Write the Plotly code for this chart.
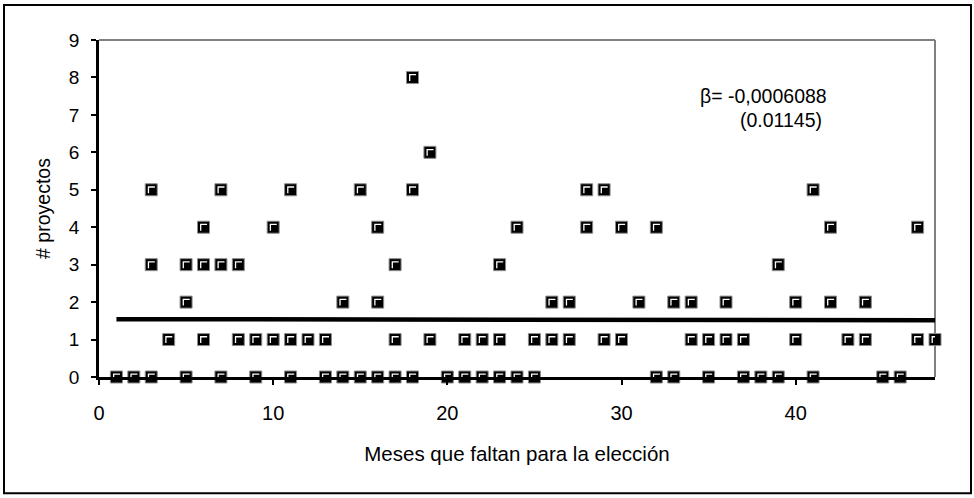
import plotly.graph_objects as go

# Monthly counts of projects versus months remaining before the election
meses = [1, 2, 3, 3, 3, 4, 5, 5, 5, 6, 6, 6, 7, 7, 7, 8, 8, 9, 9, 10, 10,
         11, 11, 11, 12, 13, 13, 14, 14, 15, 15, 16, 16, 16, 17, 17, 17,
         18, 18, 18, 19, 19, 20, 21, 21, 22, 22, 23, 23, 23, 24, 24, 25, 25,
         26, 26, 27, 27, 28, 28, 29, 29, 30, 30, 31, 32, 32, 33, 33, 34, 34,
         35, 35, 36, 36, 37, 37, 38, 39, 39, 40, 40, 41, 41, 42, 42, 43,
         44, 44, 45, 46, 47, 47, 48]
proyectos = [0, 0, 5, 3, 0, 1, 3, 2, 0, 4, 3, 1, 5, 3, 0, 3, 1, 1, 0, 4, 1,
             5, 1, 0, 1, 1, 0, 2, 0, 5, 0, 4, 2, 0, 3, 1, 0,
             8, 5, 0, 6, 1, 0, 1, 0, 1, 0, 3, 1, 0, 4, 0, 1, 0,
             2, 1, 2, 1, 5, 4, 5, 1, 4, 1, 2, 4, 0, 2, 0, 2, 1,
             1, 0, 2, 1, 1, 0, 0, 3, 0, 2, 1, 5, 0, 4, 2, 1,
             2, 1, 0, 0, 4, 1, 1]

# Fitted trend: slope as reported, intercept estimated
beta = -0.0006088
beta_se = 0.01145
intercept = 1.545
trend_x = [1, 48]
trend_y = [intercept + beta * v for v in trend_x]

x_ticks = [0, 10, 20, 30, 40]
y_ticks = list(range(0, 10))

FONT = "Liberation Sans, Arial, sans-serif"
W, H = 974, 498
ML, MR, MT, MB = 99, 39, 40, 120.5


def px_to_paper(px, py):
    return ((px - ML) / (W - ML - MR), (H - MB - py) / (H - MT - MB))


fig = go.Figure()

fig.add_trace(go.Scatter(
    x=trend_x, y=trend_y, mode="lines",
    line=dict(color="black", width=4.5),
    hoverinfo="skip", showlegend=False,
))

fig.add_trace(go.Scatter(
    x=meses, y=proyectos, mode="markers",
    marker=dict(symbol="square", size=12, color="black",
                line=dict(color="#8c8c8c", width=1)),
    cliponaxis=False, showlegend=False,
))

# White corner highlight on each square marker
shapes = []
for xv, yv in zip(meses, proyectos):
    shapes.append(dict(
        type="path", xref="x", yref="y",
        xsizemode="pixel", ysizemode="pixel",
        xanchor=xv, yanchor=yv,
        path="M-2.8,-3.5 L-2.8,2.8 L3.6,2.8",
        line=dict(color="white", width=1.3),
        layer="above",
    ))

# Grey plot-area frame on top and right
shapes.append(dict(type="line", xref="paper", yref="paper",
                   x0=0, x1=1, y0=1, y1=1,
                   line=dict(color="#808080", width=2), layer="below"))
shapes.append(dict(type="line", xref="paper", yref="paper",
                   x0=1, x1=1, y0=0, y1=1,
                   line=dict(color="#808080", width=2), layer="below"))

# Outer chart border
bx0, by0 = px_to_paper(4, 494)
bx1, by1 = px_to_paper(971, 5)
shapes.append(dict(type="rect", xref="paper", yref="paper",
                   x0=bx0, x1=bx1, y0=by0, y1=by1,
                   line=dict(color="black", width=2),
                   fillcolor="rgba(0,0,0,0)", layer="above"))

ax1, ay1 = px_to_paper(763, 96)
ax2, ay2 = px_to_paper(781, 120)

fig.update_layout(
    width=W, height=H,
    margin=dict(l=ML, r=MR, t=MT, b=MB, pad=0),
    paper_bgcolor="white", plot_bgcolor="white",
    font=dict(family=FONT, color="black", size=19),
    shapes=shapes,
    annotations=[
        dict(text=f"β= {str(beta).replace('.', ',')}", xref="paper", yref="paper",
             x=ax1, y=ay1, xanchor="center", yanchor="middle",
             showarrow=False, borderpad=0, font=dict(size=19.5)),
        dict(text=f"({beta_se})", xref="paper", yref="paper",
             x=ax2, y=ay2, xanchor="center", yanchor="middle",
             showarrow=False, borderpad=0, font=dict(size=19.5)),
    ],
    xaxis=dict(
        range=[0, 48], tickvals=x_ticks, ticktext=[str(v) for v in x_ticks],
        showgrid=False, zeroline=False,
        showline=True, linecolor="black", linewidth=2.5,
        ticks="outside", ticklen=5, tickwidth=2, tickcolor="black",
        ticklabelstandoff=11,
        tickfont=dict(size=20),
        title=dict(text="Meses que faltan para la elección",
                   font=dict(size=20.5), standoff=24),
    ),
    yaxis=dict(
        range=[0, 9], tickvals=y_ticks, ticktext=[str(v) for v in y_ticks],
        showgrid=False, zeroline=False,
        showline=True, linecolor="black", linewidth=2.5,
        ticks="outside", ticklen=5, tickwidth=2, tickcolor="black",
        ticklabelstandoff=8,
        tickfont=dict(size=19),
        title=dict(text="# proyectos", font=dict(size=19.5), standoff=14),
    ),
)

fig.write_html("out.html")
